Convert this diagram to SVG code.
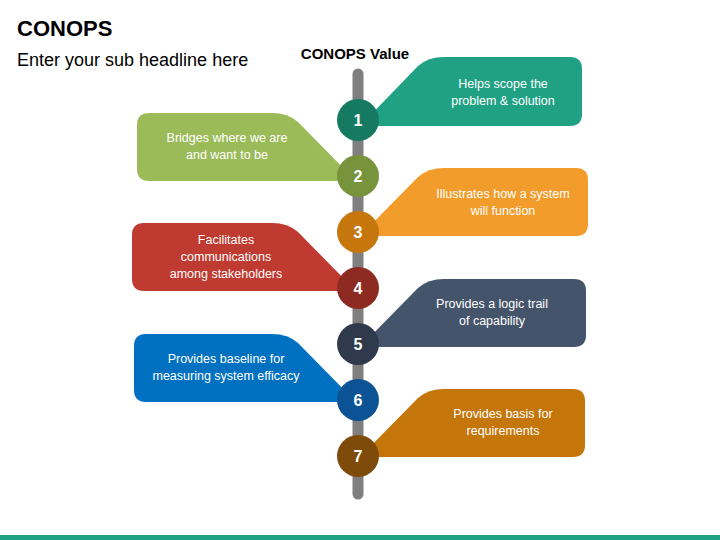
<svg xmlns="http://www.w3.org/2000/svg" width="720" height="540" viewBox="0 0 720 540">
<style>
.t{font-family:"Liberation Sans",Arial,sans-serif;font-size:12.5px;fill:#fff;text-anchor:middle}
.n{font-family:"Liberation Sans",Arial,sans-serif;font-size:16px;font-weight:bold;fill:#fff;text-anchor:middle}
.h{font-family:"Liberation Sans",Arial,sans-serif;fill:#000}
</style>
<rect width="720" height="540" fill="#fff"/>
<text class="h" x="17" y="36" font-size="22" font-weight="bold">CONOPS</text>
<text class="h" x="17" y="66" font-size="18">Enter your sub headline here</text>
<text class="h" x="355" y="59" font-size="15" font-weight="bold" text-anchor="middle">CONOPS Value</text>
<g id="connectors">
<line x1="358" y1="74" x2="358" y2="494" stroke="#7F7F7F" stroke-width="11" stroke-linecap="round"/>
</g>
<g id="node1">
<path d="M360 126 L418 66 Q428 57 444 57 L570 57 Q582 57 582 69 L582 114 Q582 126 570 126 Z" fill="#21A184"/>
<text class="t" x="503" y="88">Helps scope the</text>
<text class="t" x="503" y="105">problem &amp; solution</text>
<circle cx="358" cy="120" r="21" fill="#167A62"/>
<text class="n" x="358" y="126">1</text>
</g>
<g id="node2">
<path d="M356 181 L298 122 Q288 113 272 113 L149 113 Q137 113 137 125 L137 169 Q137 181 149 181 Z" fill="#9BBB59"/>
<text class="t" x="227" y="142">Bridges where we are</text>
<text class="t" x="227" y="159">and want to be</text>
<circle cx="358" cy="176" r="21" fill="#77933C"/>
<text class="n" x="358" y="182">2</text>
</g>
<g id="node3">
<path d="M360 236 L418 177 Q428 168 444 168 L576 168 Q588 168 588 180 L588 224 Q588 236 576 236 Z" fill="#F29C2B"/>
<text class="t" x="503" y="198">Illustrates how a system</text>
<text class="t" x="503" y="215">will function</text>
<circle cx="358" cy="232" r="21" fill="#C5770E"/>
<text class="n" x="358" y="238">3</text>
</g>
<g id="node4">
<path d="M356 291 L298 232 Q288 223 272 223 L144 223 Q132 223 132 235 L132 279 Q132 291 144 291 Z" fill="#BF3A30"/>
<text class="t" x="226" y="244">Facilitates</text>
<text class="t" x="226" y="261">communications</text>
<text class="t" x="226" y="278">among stakeholders</text>
<circle cx="358" cy="288" r="21" fill="#8D2A22"/>
<text class="n" x="358" y="294">4</text>
</g>
<g id="node5">
<path d="M360 347 L418 288 Q428 279 444 279 L574 279 Q586 279 586 291 L586 335 Q586 347 574 347 Z" fill="#44546A"/>
<text class="t" x="492" y="308">Provides a logic trail</text>
<text class="t" x="492" y="325">of capability</text>
<circle cx="358" cy="344" r="21" fill="#2F3B4C"/>
<text class="n" x="358" y="350">5</text>
</g>
<g id="node6">
<path d="M356 402 L298 343 Q288 334 272 334 L146 334 Q134 334 134 346 L134 390 Q134 402 146 402 Z" fill="#0070C0"/>
<text class="t" x="226" y="363">Provides baseline for</text>
<text class="t" x="226" y="380">measuring system efficacy</text>
<circle cx="358" cy="400" r="21" fill="#0B5394"/>
<text class="n" x="358" y="406">6</text>
</g>
<g id="node7">
<path d="M360 457 L418 398 Q428 389 444 389 L573 389 Q585 389 585 401 L585 445 Q585 457 573 457 Z" fill="#C5760A"/>
<text class="t" x="503" y="418">Provides basis for</text>
<text class="t" x="503" y="435">requirements</text>
<circle cx="358" cy="456" r="21" fill="#7F4B0A"/>
<text class="n" x="358" y="462">7</text>
</g>
<rect x="0" y="535" width="720" height="5" fill="#21A184"/>
</svg>
